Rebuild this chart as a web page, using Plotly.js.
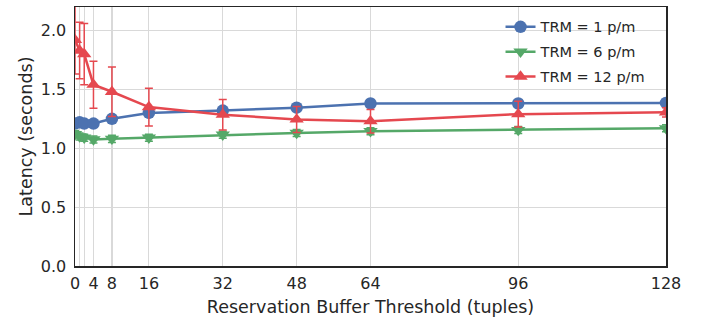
<!DOCTYPE html>
<html>
<head>
<meta charset="utf-8">
<script src="https://cdn.plot.ly/plotly-3.0.1.min.js"></script>
<style>html,body{margin:0;padding:0;background:#fff;}#chart{width:704px;height:323px;}</style>
</head>
<body>
<div id="chart"></div>
<script>
var thresholds = [0, 1, 2, 4, 8, 16, 32, 48, 64, 96, 128];
var trm1 = [1.21, 1.22, 1.21, 1.21, 1.25, 1.30, 1.32, 1.345, 1.38, 1.38, 1.385];
var trm1Err = [0.02, 0.02, 0.02, 0.02, 0.02, 0.02, 0.02, 0.02, 0.02, 0.02, 0.02];
var trm6 = [1.12, 1.10, 1.09, 1.075, 1.08, 1.09, 1.115, 1.13, 1.145, 1.155, 1.17];
var trm6Err = [0.03, 0.03, 0.03, 0.03, 0.03, 0.03, 0.03, 0.03, 0.03, 0.03, 0.03];
var trm12 = [1.92, 1.83, 1.80, 1.54, 1.48, 1.35, 1.285, 1.245, 1.23, 1.29, 1.305];
var trm12Err = [0.29, 0.24, 0.26, 0.20, 0.21, 0.16, 0.13, 0.11, 0.10, 0.11, 0.04];
var seriesNames = ['TRM = 1 p/m', 'TRM = 6 p/m', 'TRM = 12 p/m'];
var xTickVals = [0, 1, 2, 4, 8, 16, 32, 48, 64, 96, 128];
var xTickText = ['0', '', '', '4', '8', '16', '32', '48', '64', '96', '128'];
var yTickVals = [0, 0.5, 1.0, 1.5, 2.0];
var yTickText = ['0.0', '0.5', '1.0', '1.5', '2.0'];

var colors = ['#4C72B0', '#55A868', '#E5484F'];
function mk(y, err, name, color, symbol, grp) {
  return {
    x: thresholds, y: y, name: name, type: 'scatter', mode: 'lines+markers',
    legendgroup: grp,
    line: {color: color, width: 2.5},
    marker: {color: color, symbol: symbol, size: 12.5},
    error_y: {type: 'data', array: err, visible: true, color: color, thickness: 1.5, width: 4}
  };
}
var data = [
  mk(trm1, trm1Err, seriesNames[0], colors[0], 'circle', 'a'),
  mk(trm6, trm6Err, seriesNames[1], colors[1], 'triangle-down', 'b'),
  mk(trm12, trm12Err, seriesNames[2], colors[2], 'triangle-up', 'c')
];
var layout = {
  width: 704, height: 323,
  margin: {l: 75, r: 38, t: 7, b: 57},
  paper_bgcolor: '#ffffff', plot_bgcolor: '#ffffff',
  font: {family: 'DejaVu Sans, sans-serif', color: '#262626', size: 16},
  xaxis: {
    range: [0, 128], tickvals: xTickVals, ticktext: xTickText,
    showgrid: true, gridcolor: '#d9d9d9', gridwidth: 1.2, zeroline: false,
    showline: true, linecolor: '#262626', linewidth: 1.5, mirror: true,
    ticks: '', tickfont: {size: 16}, ticklabelstandoff: 2,
    title: {text: 'Reservation Buffer Threshold (tuples)', font: {size: 17.5}, standoff: 9}
  },
  yaxis: {
    range: [0, 2.2], tickvals: yTickVals, ticktext: yTickText,
    showgrid: true, gridcolor: '#d9d9d9', gridwidth: 1.2, zeroline: false,
    showline: true, linecolor: '#262626', linewidth: 1.5, mirror: true,
    ticks: '', tickfont: {size: 16}, ticklabelstandoff: 4,
    title: {text: 'Latency (seconds)', font: {size: 17.5}, standoff: 3}
  },
  showlegend: true,
  legend: {x: 0.72, y: 0.985, xanchor: 'left', yanchor: 'top', bgcolor: 'rgba(0,0,0,0)',
    font: {size: 14.5}, traceorder: 'grouped', tracegroupgap: 3},
};
Plotly.newPlot('chart', data, layout, {displayModeBar: false, staticPlot: true});
</script>
</body>
</html>
